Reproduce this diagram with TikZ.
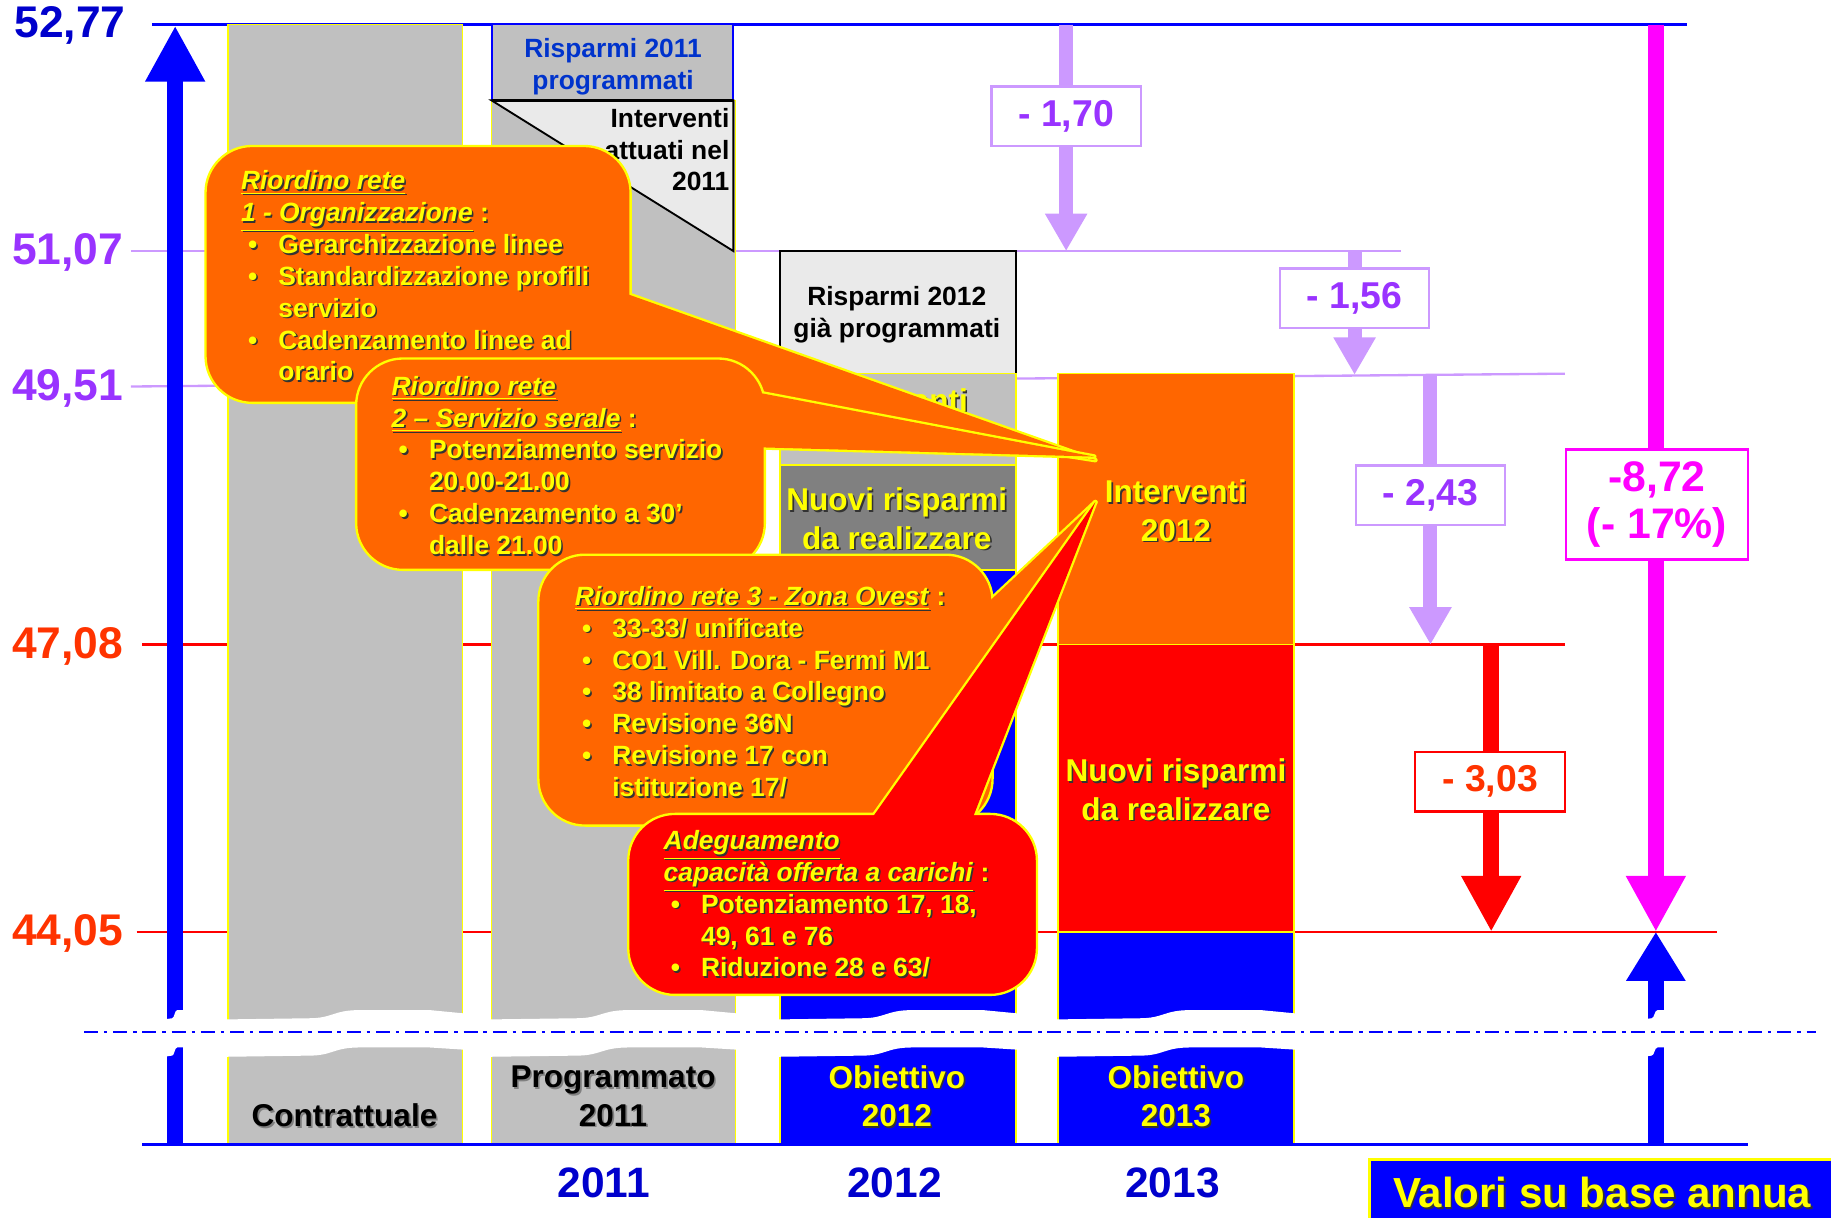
\documentclass[tikz,border=0pt]{standalone}
\usepackage{fontspec}
\setmainfont{Liberation Sans}
\usetikzlibrary{arrows.meta}

\definecolor{axblue}{HTML}{0000CC}
\definecolor{boxblue}{HTML}{0033CC}
\definecolor{barblue}{HTML}{0000FF}
\definecolor{lilac}{HTML}{CC99FF}
\definecolor{lvtext}{HTML}{9933FF}
\definecolor{orng}{HTML}{FF6600}
\definecolor{rd}{HTML}{FF0000}
\definecolor{rdtext}{HTML}{FF3300}
\definecolor{mgnt}{HTML}{FF00FF}
\definecolor{colgray}{HTML}{C0C0C0}
\definecolor{dkgray}{HTML}{808080}
\definecolor{ltgray}{HTML}{EAEAEA}
\definecolor{ylw}{HTML}{FFFF00}

% shadowed text and bullets
\newcommand{\shd}[2][black!80]{\makebox[0pt][l]{\hspace{0.7pt}\raisebox{-0.7pt}{\color{#1}#2}}#2}
\newcommand{\bul}{\makebox[16pt][l]{\hspace{3pt}\textbullet}}
\newcommand{\bulgap}{\hspace*{16pt}}

\begin{document}
\begin{tikzpicture}[x=0.5pt, y=-0.5pt,
    col/.style={draw=ylw, line width=0.7pt},
    axlbl/.style={font=\bfseries\fontsize{19}{22}\selectfont, inner sep=0pt},
    yrlbl/.style={font=\bfseries\fontsize{18.2}{21}\selectfont, text=axblue, inner sep=0pt},
    coltxt/.style={font=\bfseries\fontsize{13.5}{16.5}\selectfont, align=center, inner sep=0pt, text=ylw},
    boxtxt/.style={font=\bfseries\fontsize{11.3}{13.5}\selectfont, align=center, inner sep=0pt},
    calltxt/.style={font=\bfseries\fontsize{11.3}{13.65}\selectfont, align=left, inner sep=0pt, anchor=north west, text=ylw},
    callbody/.style={draw=ylw, line width=1pt, rounded corners=20pt},
    calledge/.style={draw=ylw, line width=2pt, line join=round},
    stepval/.style={draw=lilac, line width=1pt, fill=white, minimum width=64pt, minimum height=25.5pt, inner sep=0pt, text=lvtext, font=\bfseries\fontsize{16}{19}\selectfont},
    thinarr/.style={draw=lilac, line width=6pt, -{Triangle[length=16pt, width=17pt]}},
    fatarr/.style={line width=7pt, -{Triangle[length=24pt, width=24pt]}}]

  \useasboundingbox (0,0) rectangle (1568,1043);

  % level lines
  \draw[barblue, line width=1.2pt] (130,21) -- (1445,21);
  \draw[lilac, line width=1pt] (112,215) -- (1200,215);
  \draw[lilac, line width=1pt] (112,331) -- (1340,320);
  \draw[rd, line width=1pt] (122,552) -- (1340,552);
  \draw[rd, line width=1pt] (117,798) -- (1470,798);

  \node[axlbl, text=axblue] (v5277) at (60,22) {52,77};
  \node[axlbl, text=lvtext] (v5107) at (58,216.5) {51,07};
  \node[axlbl, text=lvtext] (v4951) at (58,332.5) {49,51};
  \node[axlbl, text=rdtext] (v4708) at (58,553.5) {47,08};
  \node[axlbl, text=rdtext] (v4405) at (58,799.5) {44,05};

  % columns
  \filldraw[col, fill=colgray] (195,21) rectangle (396,980);

  \filldraw[col, fill=colgray] (421,86) rectangle (630,980);
  \filldraw[fill=colgray, draw=barblue, line width=0.8pt] (421,21) rectangle (628,86);
  \filldraw[fill=ltgray, draw=black, line width=0.8pt] (421,86) -- (628,86) -- (628,215) -- cycle;
  \draw[line width=1.3pt] (421,86) -- (628,86);

  \filldraw[fill=ltgray, draw=black, line width=0.8pt] (668,215) rectangle (870,320);
  \filldraw[col, fill=colgray] (668,320) rectangle (870,398);
  \filldraw[col, fill=dkgray] (668,398) rectangle (870,488);
  \filldraw[col, fill=barblue] (668,488) rectangle (870,980);

  \filldraw[col, fill=orng] (906,320) rectangle (1108,552);
  \filldraw[col, fill=rd] (906,552) rectangle (1108,798);
  \filldraw[col, fill=barblue] (906,798) rectangle (1108,980);

  \node[boxtxt, text=boxblue] (ris11) at (525,57) {Risparmi 2011\\programmati};
  \node[boxtxt, anchor=north east, align=right] (att11) at (625,92.6) {Interventi\\attuati nel\\2011};
  \node[boxtxt] (ris12) at (768,269.5) {Risparmi 2012\\già programmati};
  \node[coltxt] (int12a) at (768,360) {\shd{Interventi}\\\shd{2012}};
  \node[coltxt] (nuovi12) at (768,445) {\shd{Nuovi risparmi}\\\shd{da realizzare}};
  \node[coltxt] (int13) at (1007,438) {\shd{Interventi}\\\shd{2012}};
  \node[coltxt] (nuovi13) at (1007,677) {\shd{Nuovi risparmi}\\\shd{da realizzare}};

  % arrows
  \coordinate (upB) at (150,980);
  \coordinate (upT) at (150,22);
  \draw[fatarr, barblue] (upB) -- (upT);

  \coordinate (d170a) at (913,21);
  \coordinate (d170b) at (913,215);
  \draw[thinarr] (d170a) -- (d170b);
  \node[stepval] (s170) at (913,99.5) {- 1,70};

  \coordinate (d156a) at (1160,215);
  \coordinate (d156b) at (1160,321);
  \draw[thinarr] (d156a) -- (d156b);
  \node[stepval] (s156) at (1160,255.5) {- 1,56};

  \coordinate (d243a) at (1225,321);
  \coordinate (d243b) at (1225,552);
  \draw[thinarr] (d243a) -- (d243b);
  \node[stepval] (s243) at (1225,424) {- 2,43};

  \coordinate (d303a) at (1277,552);
  \coordinate (d303b) at (1277,798);
  \draw[fatarr, rd] (d303a) -- (d303b);
  \node[stepval, draw=rd, text=rdtext] (s303) at (1276,669.5) {- 3,03};

  \coordinate (tot0) at (1418,21);
  \coordinate (tot1) at (1418,798);
  \coordinate (obB) at (1418,980);
  \draw[fatarr, mgnt] (tot0) -- (tot1);
  \draw[line width=7pt, -{Triangle[length=21pt, width=24pt]}, barblue] (obB) -- (tot1);
  \node[stepval, draw=mgnt, text=mgnt, minimum width=78pt, minimum height=47pt, align=center,
        font=\bfseries\fontsize{18.3}{20}\selectfont] (s872) at (1419,432) {-8,72\\(- 17\%)};

  % axis break
  \foreach \a/\b in {140/161, 192/399, 418/633, 665/873, 903/1111, 1406/1430} {
    \fill[white] (\a,873) -- ({\a+0.35*(\b-\a)},872) .. controls ({\a+0.45*(\b-\a)},872) and ({\a+0.45*(\b-\a)},865) .. ({\a+0.56*(\b-\a)},865)
      -- ({\a+0.85*(\b-\a)},865) -- (\b,868) -- (\b,899)
      -- ({\a+0.85*(\b-\a)},897) -- ({\a+0.56*(\b-\a)},897) .. controls ({\a+0.45*(\b-\a)},897) and ({\a+0.45*(\b-\a)},904) .. ({\a+0.35*(\b-\a)},904)
      -- (\a,905) -- cycle;
  }
  \draw[barblue, line width=1pt, dash pattern=on 6pt off 2.5pt on 1.5pt off 2.5pt] (72,884) -- (1555,884);
  \draw[barblue, line width=1.2pt] (122,980) -- (1497,980);

  \node[coltxt, text=black] (contr) at (295,956) {\shd[gray]{Contrattuale}};
  \node[coltxt, text=black] (prog11) at (525,939.5) {\shd[gray]{Programmato}\\\shd[gray]{2011}};
  \node[coltxt] (ob12) at (768,939.5) {\shd{Obiettivo}\\\shd{2012}};
  \node[coltxt] (ob13) at (1007,939.5) {\shd{Obiettivo}\\\shd{2013}};

  % callouts
  \draw[calledge] (532,250) -- (938,394) -- (532,330);
  \filldraw[callbody, fill=orng] (176,125) rectangle (540,345);
  \fill[orng] (532,250) -- (938,394) -- (532,330) -- cycle;
  \node[calltxt] (riord1) at (206,145.6) {\shd{\underline{\textit{Riordino rete}}}\\
    \shd{\underline{\textit{1 - Organizzazione}} :}\\
    \shd{\bul Gerarchizzazione linee}\\
    \shd{\bul Standardizzazione profili}\\
    \shd{\bulgap servizio}\\
    \shd{\bul Cadenzamento linee ad}\\
    \shd{\bulgap orario}};

  \draw[calledge] (648,336) -- (937,391) -- (648,383);
  \filldraw[callbody, fill=orng] (305,307) rectangle (655,488);
  \fill[orng] (648,336) -- (937,391) -- (648,383) -- cycle;
  \node[calltxt] (riord2) at (335,321.6) {\shd{\underline{\textit{Riordino rete}}}\\
    \shd{\underline{\textit{2 – Servizio serale}} :}\\
    \shd{\bul Potenziamento servizio}\\
    \shd{\bulgap 20.00-21.00}\\
    \shd{\bul Cadenzamento a 30’}\\
    \shd{\bulgap dalle 21.00}};

  \draw[calledge] (845,517) -- (938,430) -- (745,702);
  \filldraw[callbody, fill=orng] (461,475) rectangle (850,707);
  \fill[orng] (845,517) -- (938,430) -- (745,702) -- cycle;
  \node[calltxt] (riord3) at (492,501.6) {\shd{\underline{\textit{Riordino rete 3 - Zona Ovest}} :}\\
    \shd{\bul 33-33/ unificate}\\
    \shd{\bul CO1 Vill. Dora - Fermi M1}\\
    \shd{\bul 38 limitato a Collegno}\\
    \shd{\bul Revisione 36N}\\
    \shd{\bul Revisione 17 con}\\
    \shd{\bulgap istituzione 17/}};

  \draw[calledge] (745,703) -- (938,430) -- (832,703);
  \filldraw[callbody, fill=rd] (538,697) rectangle (888,852);
  \fill[rd] (745,703) -- (938,430) -- (832,703) -- cycle;
  \node[calltxt] (adeg) at (568,710.6) {\shd{\underline{\textit{Adeguamento}}}\\
    \shd{\underline{\textit{capacità offerta a carichi}} :}\\
    \shd{\bul Potenziamento 17, 18,}\\
    \shd{\bulgap 49, 61 e 76}\\
    \shd{\bul Riduzione 28 e 63/}};

  % years
  \node[yrlbl] (y2011) at (517,1013) {2011};
  \node[yrlbl] (y2012) at (766,1013) {2012};
  \node[yrlbl] (y2013) at (1004,1013) {2013};

  \filldraw[fill=barblue, draw=ylw, line width=1.2pt] (1173,993) rectangle (1590,1060);
  \node[yrlbl, text=ylw, font=\bfseries\fontsize{18}{21}\selectfont] (valori) at (1372,1022) {\shd{Valori su base annua}};
\end{tikzpicture}
\end{document}
